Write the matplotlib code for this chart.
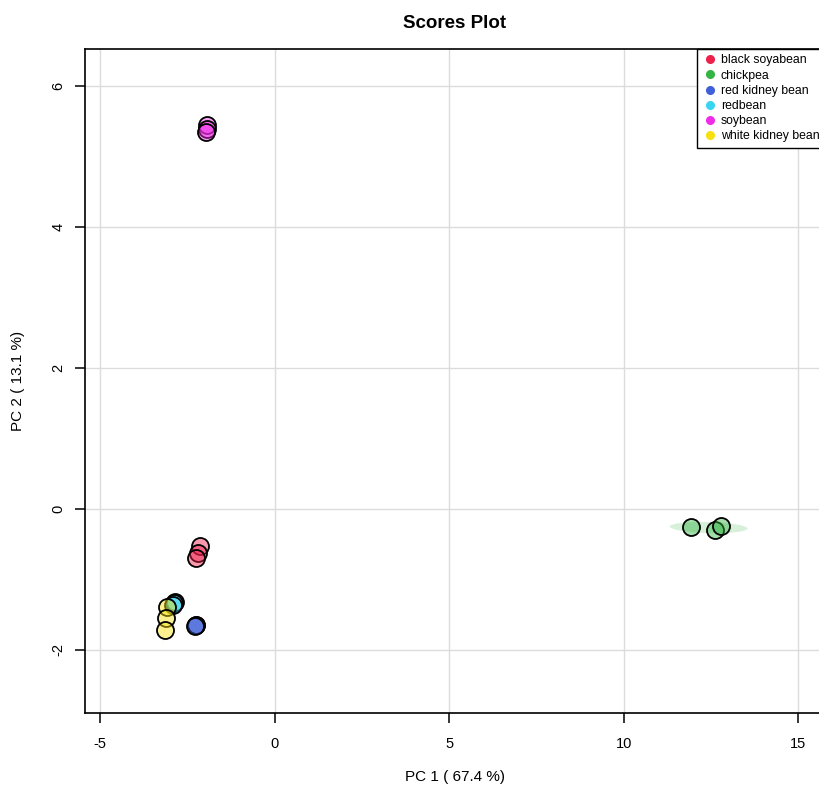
import numpy as np
import matplotlib
matplotlib.use("Agg")
import matplotlib.pyplot as plt
from matplotlib.patches import Ellipse
from matplotlib.lines import Line2D

plt.rcParams['font.family'] = ['Liberation Sans', 'DejaVu Sans']
plt.rcParams['axes.unicode_minus'] = False

# ---------- data (PC scores) ----------
groups = ['black soyabean', 'chickpea', 'red kidney bean', 'redbean', 'soybean', 'white kidney bean']
colors = ['#EE1F4B', '#33B443', '#3F60D8', '#38D5F1', '#F02CE8', '#F8E00E']

pc1_black = [-2.14, -2.20, -2.26]
pc2_black = [-0.53, -0.62, -0.70]
pc1_chick = [11.92, 12.61, 12.78]
pc2_chick = [-0.25, -0.30, -0.24]
pc1_rkb = [-2.26, -2.25, -2.27]
pc2_rkb = [-1.64, -1.65, -1.66]
pc1_red = [-2.86, -2.88, -2.90]
pc2_red = [-1.32, -1.34, -1.36]
pc1_soy = [-1.93, -1.94, -1.95]
pc2_soy = [5.45, 5.39, 5.35]
pc1_white = [-3.07, -3.12, -3.15]
pc2_white = [-1.39, -1.55, -1.71]

pc1 = [pc1_black, pc1_chick, pc1_rkb, pc1_red, pc1_soy, pc1_white]
pc2 = [pc2_black, pc2_chick, pc2_rkb, pc2_red, pc2_soy, pc2_white]

# ---------- figure ----------
fig = plt.figure(figsize=(8.2, 7.91), dpi=100)
W, H = 820, 791
ax = fig.add_axes([85 / W, 1 - 713 / H, 740 / W, (713 - 49) / H])

# 95% confidence ellipses
chi = np.sqrt(5.991)
for x, y, c in zip(pc1, pc2, colors):
    x = np.array(x); y = np.array(y)
    cov = np.cov(x, y)
    vals, vecs = np.linalg.eigh(cov)
    vals = np.clip(vals, 0, None)
    ang = np.degrees(np.arctan2(vecs[1, 1], vecs[0, 1]))
    e = Ellipse((x.mean(), y.mean()), 2 * chi * np.sqrt(vals[1]), 2 * chi * np.sqrt(vals[0]),
                angle=ang, facecolor=c, alpha=0.2, edgecolor='none', zorder=2)
    ax.add_patch(e)

for x, y, c in zip(pc1, pc2, colors):
    ax.scatter(x, y, s=150, facecolor=matplotlib.colors.to_rgba(c, 0.45),
               edgecolor='black', linewidth=1.3, zorder=3)

ax.set_xlim(-5.43, 15.77)
ax.set_ylim(-2.894, 6.525)
ax.set_xticks([-5, 0, 5, 10, 15])
ax.set_yticks([-2, 0, 2, 4, 6])
ax.grid(True, color='#dcdcdc', linewidth=1.0, zorder=0)
ax.set_axisbelow(True)
for sp in ax.spines.values():
    sp.set_linewidth(1.2)
ax.tick_params(direction='out', length=7, width=1.1, labelsize=10.5, pad=10)
ax.tick_params(axis='y', pad=7)
for lab in ax.get_yticklabels():
    lab.set_rotation(90)
    lab.set_va('center')

ax.set_xlabel('PC 1 ( 67.4 %)', fontsize=11, labelpad=14)
ax.set_ylabel('PC 2 ( 13.1 %)', fontsize=11, labelpad=19)
ax.set_title('Scores Plot', fontsize=13.5, fontweight='bold', pad=15)

handles = [Line2D([], [], marker='o', linestyle='none', markersize=5.5,
                  markerfacecolor=c, markeredgecolor=c) for c in colors]
leg = ax.legend(handles, groups, loc='upper right', fontsize=8.8, frameon=True, fancybox=False,
                edgecolor='black', framealpha=1, borderaxespad=0, handletextpad=0.3,
                labelspacing=0.26, borderpad=0.45, handlelength=1.2,
                bbox_to_anchor=(1.0, 1.0))
leg.get_frame().set_linewidth(1.0)

fig.savefig('out.png', dpi=100)
